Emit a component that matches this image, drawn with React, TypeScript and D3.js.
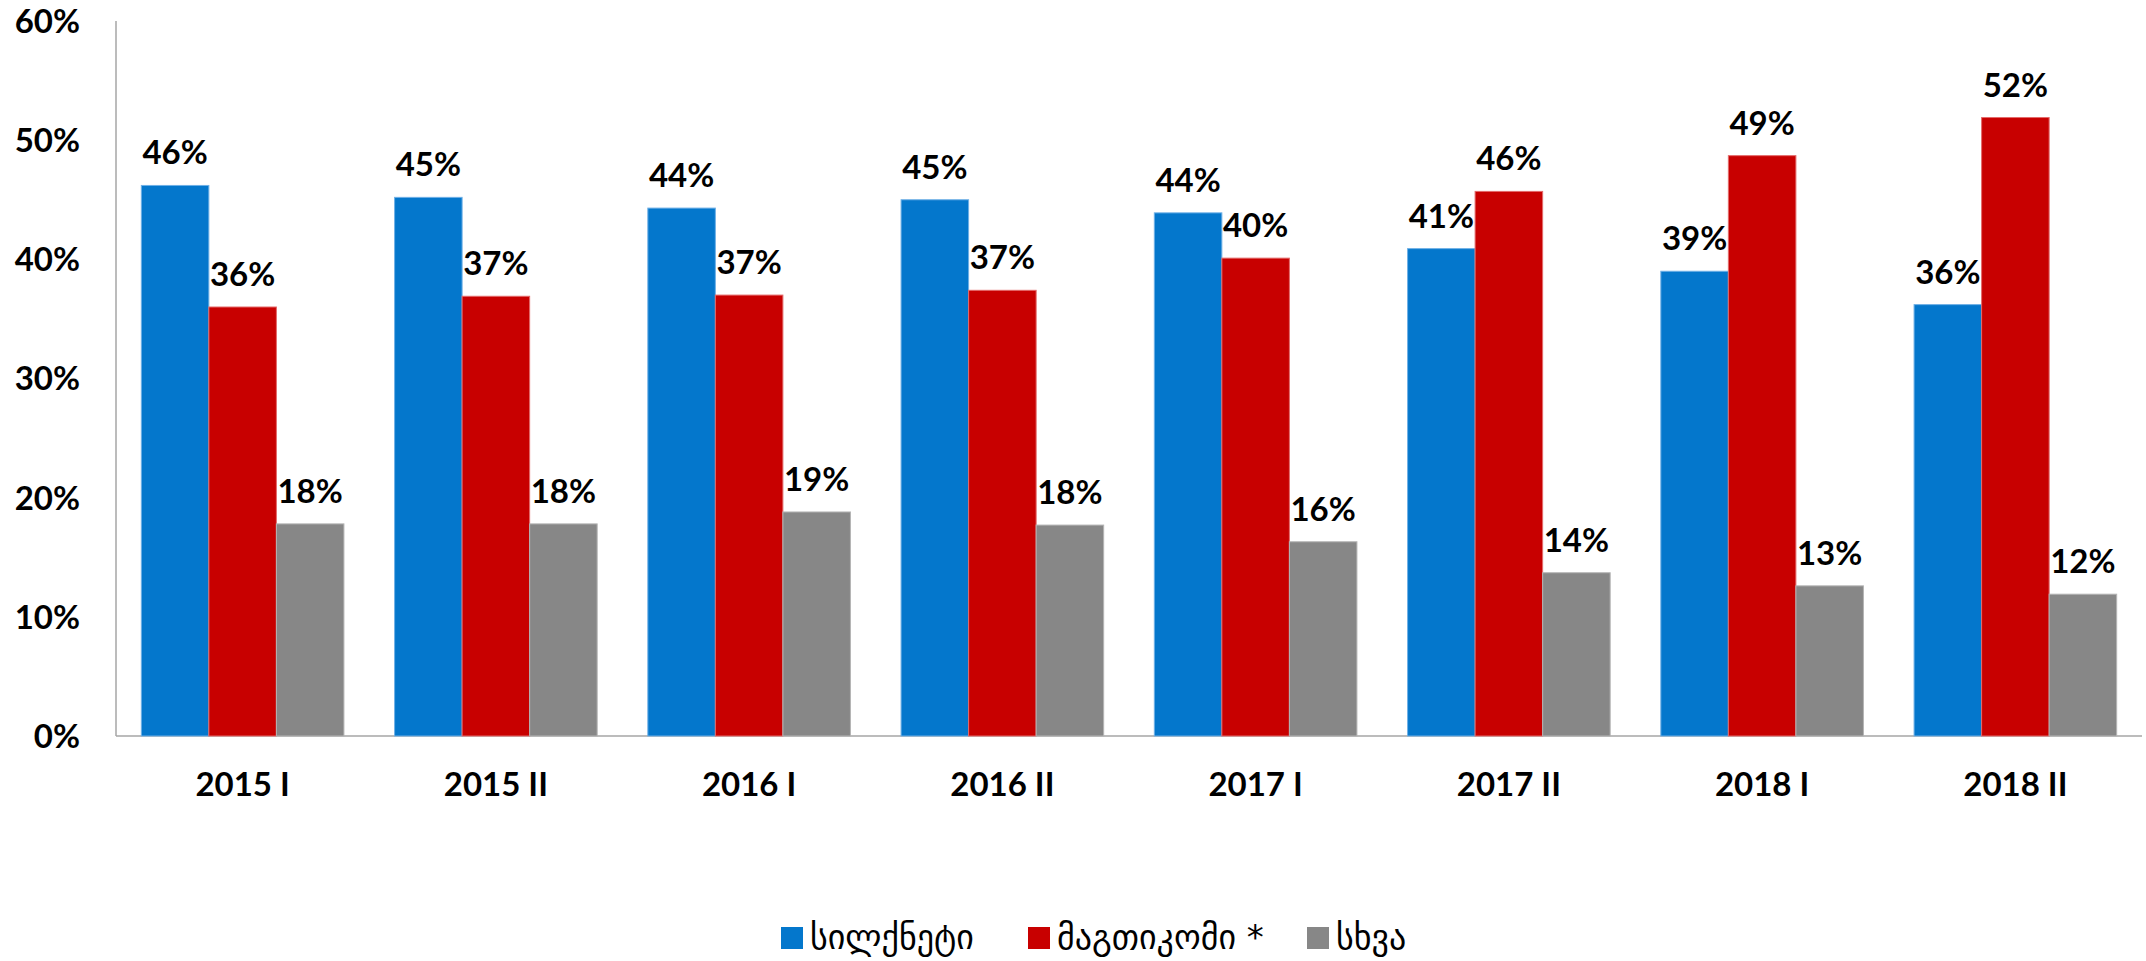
import { useMemo } from "react";
import * as d3 from "d3";

// Half-year periods and market shares (%)
const periods = ["2015 I", "2015 II", "2016 I", "2016 II", "2017 I", "2017 II", "2018 I", "2018 II"];
const seriesNames = ["სილქნეტი", "მაგთიკომი *", "სხვა"];
const silknet = [46.2, 45.2, 44.3, 45.0, 43.9, 40.9, 39.0, 36.2];
const magticom = [36.0, 36.9, 37.0, 37.4, 40.1, 45.7, 48.7, 51.9];
const other = [17.8, 17.8, 18.8, 17.7, 16.3, 13.7, 12.6, 11.9];
const yTicks = [0, 10, 20, 30, 40, 50, 60];

const colors = ["#0477cc", "#c80000", "#878787"];
const edges = ["#6fb0e6", "#e46a6a", "#b4b4b4"];

const W = 2146;
const H = 961;
const plot = { left: 116, right: 2142, top: 21, bottom: 736 };
const FONT = "Lato, 'Open Sans', sans-serif";
const GEO_FONT = "'DejaVu Sans', sans-serif";

export default function App() {
  const series = [silknet, magticom, other];

  const x0 = useMemo(
    () =>
      d3
        .scaleBand<string>()
        .domain(periods)
        .range([plot.left, plot.right])
        .paddingInner(0.2)
        .paddingOuter(0.1),
    [],
  );

  const x1 = useMemo(
    () =>
      d3
        .scaleBand<string>()
        .domain(seriesNames)
        .range([0, x0.bandwidth()]),
    [x0],
  );

  const y = useMemo(
    () => d3.scaleLinear().domain([0, 60]).range([plot.bottom, plot.top]),
    [],
  );

  const legendX = [781, 1028, 1307];

  return (
    <svg
      width={W}
      height={H}
      style={{ position: "absolute", left: 0, top: 0, background: "#fff" }}
    >
      {/* axes */}
      <line x1={plot.left} x2={plot.left} y1={plot.top} y2={plot.bottom} stroke="#a6a6a6" strokeWidth={1.5} />
      <line x1={plot.left} x2={plot.right} y1={plot.bottom} y2={plot.bottom} stroke="#a6a6a6" strokeWidth={1.5} />

      {yTicks.map((t) => (
        <text
          key={t}
          x={80}
          y={y(t)}
          dy="0.36em"
          textAnchor="end"
          fontFamily={FONT}
          fontWeight={700}
          fontSize={33}
          fill="#000"
        >
          {t}%
        </text>
      ))}

      {/* bars */}
      {periods.map((p, i) => (
        <g key={p} transform={`translate(${x0(p)},0)`}>
          {series.map((vals, s) => {
            const bx = x1(seriesNames[s]) ?? 0;
            const v = vals[i];
            return (
              <g key={s}>
                <rect
                  x={bx}
                  y={y(v)}
                  width={x1.bandwidth()}
                  height={plot.bottom - y(v)}
                  fill={colors[s]}
                  stroke={edges[s]}
                  strokeWidth={1}
                />
                <text
                  x={bx + x1.bandwidth() / 2}
                  y={y(v) - 21}
                  textAnchor="middle"
                  fontFamily={FONT}
                  fontWeight={700}
                  fontSize={33}
                  fill="#000"
                >
                  {Math.round(v)}%
                </text>
              </g>
            );
          })}
          <text
            x={x0.bandwidth() / 2}
            y={796}
            textAnchor="middle"
            fontFamily={FONT}
            fontWeight={700}
            fontSize={33}
            fill="#000"
          >
            {p}
          </text>
        </g>
      ))}

      {/* legend */}
      {seriesNames.map((name, s) => (
        <g key={name} transform={`translate(${legendX[s]},927)`}>
          <rect width={22} height={22} fill={colors[s]} />
          <text x={29} y={22} fontFamily={GEO_FONT} fontSize={34} fill="#000">
            {name}
          </text>
        </g>
      ))}
    </svg>
  );
}
